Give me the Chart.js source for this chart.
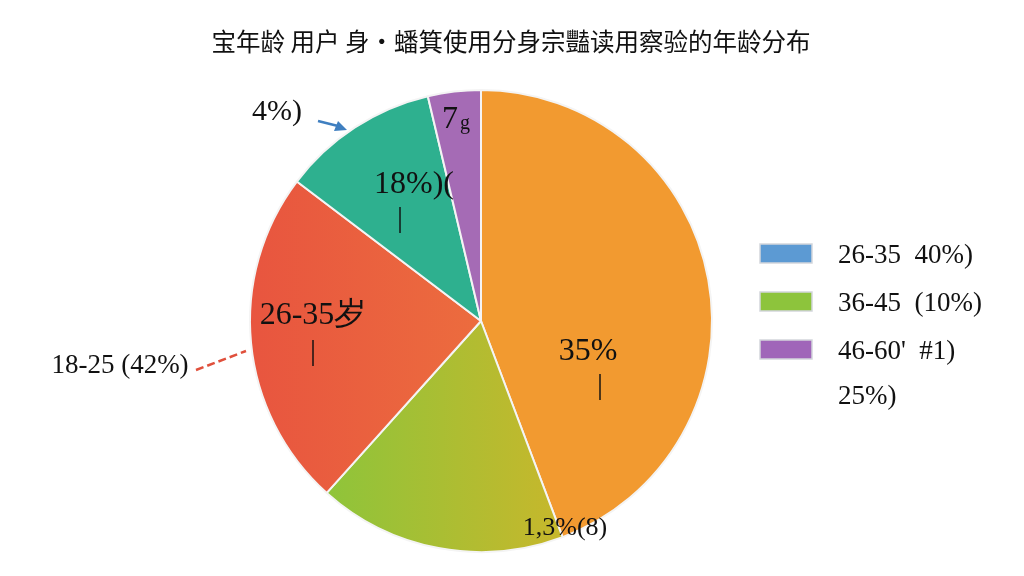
<!DOCTYPE html>
<html>
<head>
<meta charset="utf-8">
<script src="https://cdn.jsdelivr.net/npm/chart.js@4"></script>
<style>
  html, body { margin: 0; padding: 0; background: #fff; }
  #wrap { position: relative; width: 1024px; height: 576px; }
</style>
</head>
<body>
<div id="wrap"><canvas id="pieChart" width="1024" height="576"></canvas></div>
<script>
// 資料（依圖片估計）
const titleText = "宝年龄 用户 身·蟠箕使用分身宗豔读用察验的年龄分布";
const sliceNames = ["35%", "1,3%(8)", "26-35岁", "18%)(", "7g"];
const sliceValues = [44.3, 17.4, 23.7, 11.0, 3.7];
const sliceColors = ["#F29A30", "#A8BE32", "#E9603F", "#2EB08F", "#A56BB5"];
const legendLabels = ["26-35  40%)", "36-45  (10%)", "46-60'  #1)"];
const legendColors = ["#5C9AD3", "#8DC43C", "#A066B9"];
const legendExtra = "25%)";

const serif = '"Liberation Serif", "DejaVu Serif", serif';

// 綠色、紅色扇形用漸層
function sliceFill(ctx) {
  const i = ctx.dataIndex;
  const chart = ctx.chart;
  const area = chart.chartArea;
  if (!area) return sliceColors[i];
  const c = chart.ctx;
  if (i === 1) {
    const g = c.createLinearGradient(330, 0, 570, 0);
    g.addColorStop(0, "#8FC43A");
    g.addColorStop(1, "#C9B72B");
    return g;
  }
  if (i === 2) {
    const g = c.createLinearGradient(250, 0, 480, 0);
    g.addColorStop(0, "#E8553F");
    g.addColorStop(1, "#EC6C3E");
    return g;
  }
  return sliceColors[i];
}

const textPlugin = {
  id: "textPlugin",
  afterDraw(chart) {
    const c = chart.ctx;
    c.save();
    c.fillStyle = "#111";
    c.textBaseline = "middle";

    // 標題
    c.textAlign = "center";
    c.font = '24.5px "Noto Sans CJK SC", sans-serif';
    c.fillText(titleText, 511, 42);

    // 扇形內文字
    const inside = [
      { t: sliceNames[0], x: 588, y: 352, s: 32 },
      { t: "|", x: 600, y: 386, s: 30 },
      { t: sliceNames[1], x: 565, y: 528, s: 26 },
      { t: sliceNames[2], x: 313, y: 316, s: 32 },
      { t: "|", x: 313, y: 352, s: 30 },
      { t: sliceNames[3], x: 414, y: 185, s: 32 },
      { t: "|", x: 400, y: 219, s: 30 },
    ];
    inside.forEach(o => {
      c.font = o.s + "px " + serif;
      c.fillText(o.t, o.x, o.y);
    });
    // 紫色扇形：大 7 加小 g
    c.font = "32px " + serif;
    c.fillText(sliceNames[4].charAt(0), 450, 120);
    c.font = "20px " + serif;
    c.fillText(sliceNames[4].charAt(1), 465, 124);

    // 外部標註
    c.font = "30px " + serif;
    c.fillText("4%)", 277, 112);
    c.font = "27px " + serif;
    c.fillText("18-25 (42%)", 120, 366);

    // 藍色箭頭
    c.strokeStyle = "#3F7FC0";
    c.fillStyle = "#3F7FC0";
    c.lineWidth = 2.5;
    c.beginPath();
    c.moveTo(318, 121);
    c.lineTo(338, 126);
    c.stroke();
    c.beginPath();
    c.moveTo(347, 130);
    c.lineTo(334, 131);
    c.lineTo(338, 121);
    c.closePath();
    c.fill();

    // 紅色虛線
    c.strokeStyle = "#E0503C";
    c.lineWidth = 2.5;
    c.setLineDash([8, 4]);
    c.beginPath();
    c.moveTo(196, 370);
    c.lineTo(246, 351);
    c.stroke();
    c.setLineDash([]);

    // 圖例
    c.textAlign = "left";
    c.font = "27px " + serif;
    legendLabels.forEach((lab, i) => {
      const y = 253 + i * 48;
      c.fillStyle = legendColors[i];
      c.fillRect(760, y - 9, 52, 19);
      c.strokeStyle = "#D3D6DC";
      c.lineWidth = 1.5;
      c.strokeRect(760, y - 9, 52, 19);
      c.fillStyle = "#111";
      c.fillText(lab, 838, y + 3);
    });
    c.fillText(legendExtra, 838, 397);
    c.restore();
  }
};

new Chart(document.getElementById("pieChart"), {
  type: "pie",
  data: {
    labels: sliceNames,
    datasets: [{
      data: sliceValues,
      backgroundColor: sliceFill,
      borderColor: "#F4F4F4",
      borderWidth: 2,
      hoverOffset: 0,
    }],
  },
  options: {
    responsive: false,
    animation: false,
    layout: { padding: { top: 89, bottom: 23, left: 249, right: 311 } },
    plugins: {
      legend: { display: false },
      tooltip: { enabled: false },
      title: { display: false },
    },
  },
  plugins: [textPlugin],
});
</script>
</body>
</html>
